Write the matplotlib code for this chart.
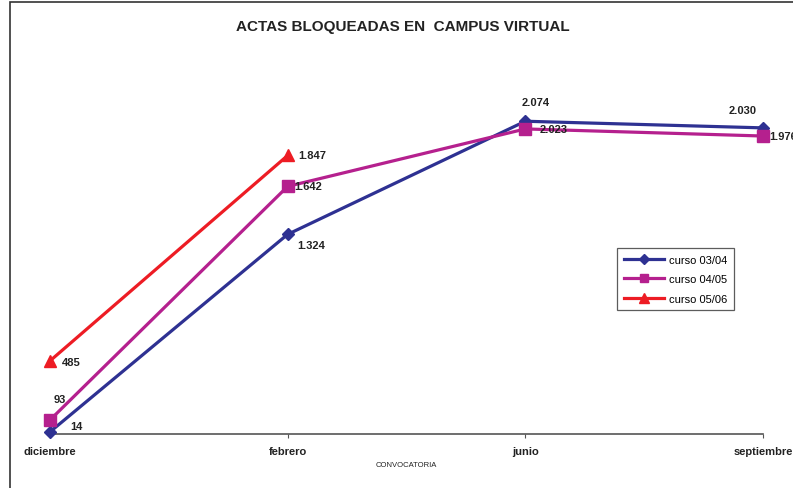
import matplotlib.pyplot as plt
from matplotlib.patches import Rectangle

plt.rcParams['font.family'] = ['Liberation Sans', 'DejaVu Sans']

meses = ['diciembre', 'febrero', 'junio', 'septiembre']
curso_0304 = [14, 1324, 2074, 2030]
curso_0405 = [93, 1642, 2023, 1976]
curso_0506 = [485, 1847]

def fmt(v):
    return f'{v:,}'.replace(',', '.')

fig = plt.figure(figsize=(7.93, 4.89), dpi=100)
ax = fig.add_axes([50 / 793, 54 / 489, 713 / 793, 377 / 489])

ax.plot(range(4), curso_0304, color='#2E3192', lw=2.3, marker='D', ms=6,
        label='curso 03/04', clip_on=False, zorder=3)
ax.plot(range(4), curso_0405, color='#B5208E', lw=2.3, marker='s', ms=8,
        label='curso 04/05', clip_on=False, zorder=3)
ax.plot(range(2), curso_0506, color='#ED1C24', lw=2.3, marker='^', ms=9,
        label='curso 05/06', clip_on=False, zorder=3)

ax.set_xlim(0, 3)
ax.set_ylim(0, 2500)

# value labels: (x index, value, dx px, dy px, ha)
etiquetas = [
    (0, curso_0304[0], 20, 6, 'left'),
    (1, curso_0304[1], 10, -11, 'left'),
    (2, curso_0304[2], 10, 19, 'center'),
    (3, curso_0304[3], -20, 18, 'center'),
    (0, curso_0405[0], 10, 21, 'center'),
    (1, curso_0405[1], 7, 0, 'left'),
    (2, curso_0405[2], 14, 0, 'left'),
    (3, curso_0405[3], 6, 0, 'left'),
    (0, curso_0506[0], 12, -1, 'left'),
    (1, curso_0506[1], 11, 0, 'left'),
]
for i, v, dx, dy, ha in etiquetas:
    ax.annotate(fmt(v), (i, v), xytext=(dx * 0.72, dy * 0.72),
                textcoords='offset points', ha=ha, va='center',
                fontsize=8, fontweight='bold', color='#222222',
                annotation_clip=False, zorder=4)

for s in ['top', 'right', 'left']:
    ax.spines[s].set_visible(False)
ax.spines['bottom'].set_color('#555555')
ax.spines['bottom'].set_linewidth(1.2)
ax.set_yticks([])
ax.set_xticks(range(4))
ax.set_xticklabels(meses, fontsize=8, fontweight='bold', color='#222222')
ax.tick_params(axis='x', length=3, color='#555555', pad=6)
ax.set_xlabel('CONVOCATORIA', fontsize=5.5, labelpad=3, color='#222222')

fig.text(403 / 793, 1 - 27 / 489, 'ACTAS BLOQUEADAS EN  CAMPUS VIRTUAL',
         ha='center', va='center', fontsize=11, fontweight='bold',
         color='#222222')

leg = ax.legend(loc='upper left', bbox_to_anchor=((617 - 50) / 713, (435 - 249) / 377),
                borderaxespad=0, fontsize=8, frameon=True, fancybox=False,
                edgecolor='#333333', borderpad=0.6, handlelength=3.6,
                handletextpad=0.5, labelspacing=0.85, markerscale=0.8)
leg.get_frame().set_linewidth(0.9)

# outer chart frame
fig.patches.append(Rectangle((10 / 793, -0.1), 1.2, 1 - 3 / 489 + 0.1,
                             transform=fig.transFigure, fill=False,
                             edgecolor='#333333', lw=1.2))

fig.savefig('out.png', dpi=100)
